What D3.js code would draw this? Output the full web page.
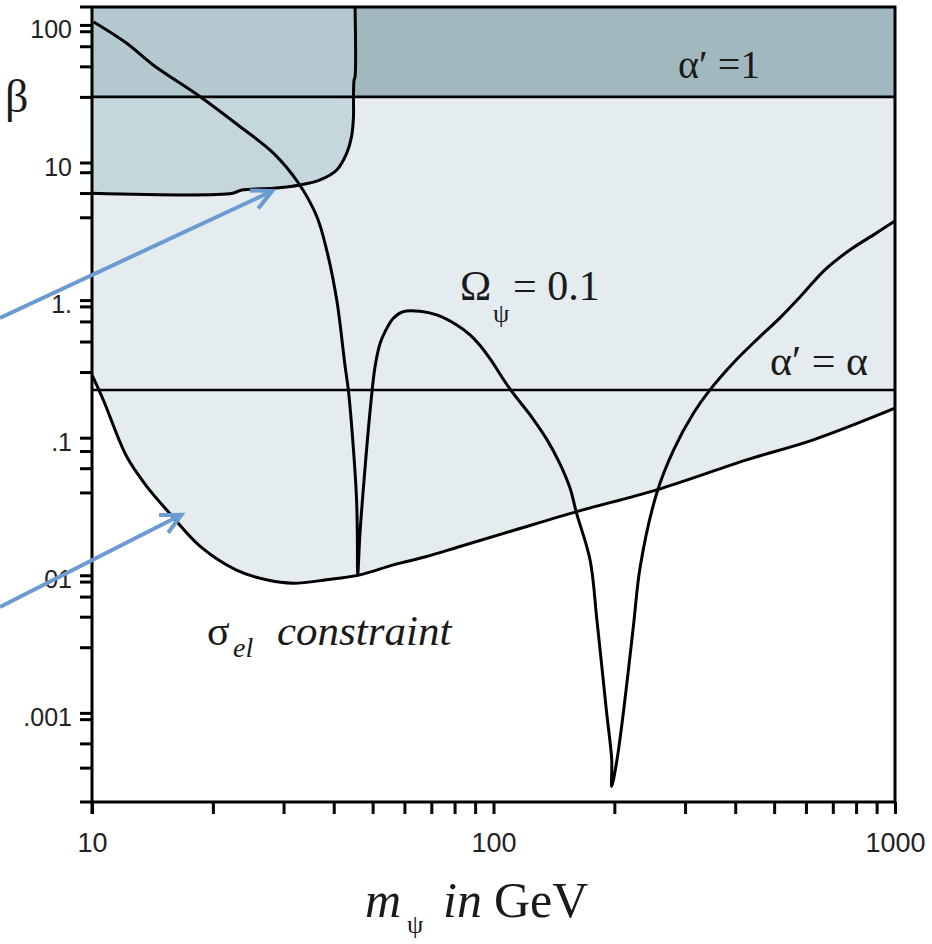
<!DOCTYPE html>
<html>
<head>
<meta charset="utf-8">
<script src="https://d3js.org/d3.v7.min.js"></script>
<style>
  body { margin: 0; background: #fff; }
  svg { display: block; }
  .tick text { font-family: "Liberation Sans", Arial, sans-serif; fill: #222; }
</style>
</head>
<body>
<svg width="932" height="944"></svg>
<script>
// Omega_psi = 0.1 curve (m_psi in GeV, beta)
const omegaMass = [10.1, 12.2, 14.2, 18.6, 23.4, 28.3, 32.7, 36.3, 38.4, 40.7, 42.7, 43.5, 44.8, 45.6, 45.8, 45.9,
  46.5, 47.9, 49.3, 50.7, 52.2, 53.7, 56.3, 59.6, 65.6, 72.2, 81, 87.4, 92.5, 98, 110, 125, 136, 146, 155, 161, 174, 181, 191,
  197, 197, 203, 211, 223, 232, 255, 281, 315, 346, 395, 452, 517, 580, 669, 773, 892, 1000];
const omegaBeta = [105, 73.6, 51.2, 30.1, 18.2, 11.7, 7.07, 4.05, 2.32, 1.0, 0.329, 0.2225, 0.0815, 0.0353, 0.0202, 0.0100,
  0.0202, 0.0617, 0.159, 0.329, 0.486, 0.59, 0.738, 0.825, 0.83, 0.78, 0.66, 0.56, 0.47, 0.375, 0.225, 0.139, 0.0964, 0.0656, 0.0432, 0.0283, 0.0129, 0.0047, 0.00105,
  0.000455, 0.000292, 0.000455, 0.00105, 0.00424, 0.0116, 0.0395, 0.0815, 0.151, 0.2225, 0.348, 0.514, 0.743, 1.055, 1.66, 2.32, 3.03, 3.76];

// sigma_el constraint, lower edge of the shaded region
const sigmaMass = [10, 10.67, 12.2, 13.7, 15.6, 18.6, 22.9, 27.2, 31.7, 38.4, 46.5, 56.3, 68.2, 82.5, 110, 161, 255, 427, 626, 1000];
const sigmaBeta = [0.286, 0.188, 0.0729, 0.0441, 0.0283, 0.0162, 0.0109, 0.00927, 0.00876, 0.00927, 0.01007, 0.0119, 0.0137, 0.0162, 0.0208, 0.029, 0.0418, 0.069, 0.0964, 0.1637];

// Z width boundary of the darker region
const zMass = [10, 22.4, 23.6, 28.3, 33, 37, 40.7, 43.1, 44.3, 44.8, 44.8, 44.95, 45.2, 45.2];
const zBeta = [5.98, 5.98, 6.32, 6.5, 6.87, 7.48, 8.83, 11.7, 15.4, 21.6, 29.7, 39.8, 42, 135];

// alpha' = 1 and alpha' = alpha lines
const alphaOneBeta = 30;
const alphaEqBeta = 0.222;

const massDomain = [10, 1000];
const betaDomain = [2.25e-4, 135];

const xMajor = [10, 100, 1000];
const xMinor = [20, 30, 40, 50, 60, 70, 80, 90, 200, 300, 400, 500, 600, 700, 800, 900];
const yMajor = [100, 10, 1, 0.1, 0.01, 0.001];
const yMajorLabels = ["100", "10", "1.", ".1", ".01", ".001"];
const yMinor = [90, 70, 50, 30, 8.5, 6, 4, 0.9, 0.7, 0.5, 0.3, 0.08, 0.06, 0.04, 0.009, 0.007, 0.005, 0.003, 0.0009, 0.0006, 0.0004];

// annotation arrows: [mass, beta] start and tip
const arrowFrom = [[5.9, 0.743], [5.9, 0.00589]];
const arrowTo = [[28.1, 6.2], [16.7, 0.0275]];

const serif = "'Liberation Serif', 'Times New Roman', 'DejaVu Serif', serif";

const xs = d3.scaleLog().domain(massDomain).range([92, 895]);
const ys = d3.scaleLog().domain(betaDomain).range([802, 7]);

const svg = d3.select("svg");

svg.append("clipPath").attr("id", "plot")
  .append("rect")
  .attr("x", xs(10)).attr("y", ys(betaDomain[1]))
  .attr("width", xs(1000) - xs(10)).attr("height", ys(betaDomain[0]) - ys(betaDomain[1]));

const plot = svg.append("g").attr("clip-path", "url(#plot)");

const line = d3.line()
  .x(d => xs(d[0])).y(d => ys(d[1]))
  .curve(d3.curveCatmullRom.alpha(0.5));

const omega = omegaMass.map((m, i) => [m, omegaBeta[i]]);
const sigma = sigmaMass.map((m, i) => [m, sigmaBeta[i]]);
const zone = zMass.map((m, i) => [m, zBeta[i]]);

// light region above the sigma_el edge
plot.append("path")
  .datum(sigma)
  .attr("fill", "#e4ecef")
  .attr("d", d3.area()
    .x(d => xs(d[0]))
    .y0(ys(betaDomain[1]))
    .y1(d => ys(d[1]))
    .curve(d3.curveCatmullRom.alpha(0.5)));

// Z width region
plot.append("path")
  .attr("fill", "#c5d6dc")
  .attr("d", line(zone) + "L" + xs(10) + "," + ys(betaDomain[1]) + "Z");

// alpha' = 1 band
plot.append("rect")
  .attr("x", xs(10)).attr("y", ys(betaDomain[1]))
  .attr("width", xs(45.2) - xs(10))
  .attr("height", ys(alphaOneBeta) - ys(betaDomain[1]))
  .attr("fill", "#b4c9cf");
plot.append("rect")
  .attr("x", xs(45.2)).attr("y", ys(betaDomain[1]))
  .attr("width", xs(1000) - xs(45.2))
  .attr("height", ys(alphaOneBeta) - ys(betaDomain[1]))
  .attr("fill", "#a1b8bf");

// horizontal lines
[alphaOneBeta, alphaEqBeta].forEach(b => {
  plot.append("line")
    .attr("x1", xs(10)).attr("x2", xs(1000))
    .attr("y1", ys(b)).attr("y2", ys(b))
    .attr("stroke", "#000").attr("stroke-width", 2.6);
});

[zone, omega, sigma].forEach(pts => {
  plot.append("path")
    .datum(pts)
    .attr("fill", "none")
    .attr("stroke", "#000")
    .attr("stroke-width", 3)
    .attr("stroke-linejoin", "round")
    .attr("d", line);
});

// axes
const xAxis = d3.axisBottom(xs)
  .tickValues(xMajor.concat(xMinor))
  .tickSize(12).tickSizeOuter(0).tickPadding(19)
  .tickFormat(d => xMajor.includes(d) ? String(d) : "");

const yAxis = d3.axisLeft(ys)
  .tickValues(yMajor.concat(yMinor))
  .tickSize(12).tickSizeOuter(0).tickPadding(8)
  .tickFormat(d => yMajor.includes(d) ? yMajorLabels[yMajor.indexOf(d)] : "");

const gx = svg.append("g")
  .attr("transform", "translate(0," + ys(betaDomain[0]) + ")")
  .call(xAxis);
gx.selectAll("text").attr("font-size", 27);

const gy = svg.append("g")
  .attr("transform", "translate(" + xs(10) + ",0)")
  .call(yAxis);
gy.selectAll("text").attr("font-size", 25).attr("dy", "0.5em");

svg.selectAll(".domain").remove();
svg.selectAll(".tick line").attr("stroke", "#000").attr("stroke-width", 3);

// frame
svg.append("path")
  .attr("fill", "none")
  .attr("stroke", "#000")
  .attr("stroke-width", 3)
  .attr("d", "M" + (xs(10) - 12) + "," + ys(betaDomain[1]) + "H" + xs(1000) + "V" + ys(betaDomain[0]) + "H" + (xs(10) - 12));
svg.append("line")
  .attr("x1", xs(10)).attr("x2", xs(10))
  .attr("y1", ys(betaDomain[1])).attr("y2", ys(betaDomain[0]) + 12)
  .attr("stroke", "#000").attr("stroke-width", 3);

// labels
const lbl = (x, y, size) => svg.append("text")
  .attr("x", x).attr("y", y)
  .attr("font-family", serif)
  .attr("font-size", size)
  .attr("fill", "#1a1a1a");
const span = (t, txt, x, y, size, italic) => {
  const s = t.append("tspan").attr("font-family", serif).text(txt);
  if (x != null) s.attr("x", x).attr("y", y);
  if (size) s.attr("font-size", size);
  if (italic) s.attr("font-style", "italic");
  return s;
};

span(lbl(5, 112, 46), "β");
span(lbl(678, 78, 40), "α′ =1");
span(lbl(770, 375, 42), "α′ = α");

const om = lbl(460, 300, 42);
span(om, "Ω");
span(om, "ψ", 493, 322, 26);
span(om, "= 0.1", 513, 300);

const sg = lbl(207, 645, 42);
span(sg, "σ");
span(sg, "el", 233, 657, 28, true);
span(sg, "constraint", 277, 645, 43, true);

const ax = lbl(365, 917, 50);
span(ax, "m", null, null, null, true);
span(ax, "ψ", 407, 933, 26);
span(ax, "in", 443, 917, null, true);
span(ax, "GeV", 494, 917);

// arrows
svg.append("defs").append("marker")
  .attr("id", "head")
  .attr("markerUnits", "userSpaceOnUse")
  .attr("viewBox", "-26 -15 30 30")
  .attr("markerWidth", 30).attr("markerHeight", 30)
  .attr("refX", 0).attr("refY", 0)
  .attr("orient", "auto")
  .append("path")
  .attr("d", "M-20,-10L0,0L-20,10")
  .attr("fill", "none")
  .attr("stroke", "#6b9bd1")
  .attr("stroke-width", 4);

arrowFrom.forEach((a, i) => {
  svg.append("line")
    .attr("x1", xs(a[0])).attr("y1", ys(a[1]))
    .attr("x2", xs(arrowTo[i][0])).attr("y2", ys(arrowTo[i][1]))
    .attr("stroke", "#6b9bd1")
    .attr("stroke-width", 4)
    .attr("marker-end", "url(#head)");
});
</script>
</body>
</html>
